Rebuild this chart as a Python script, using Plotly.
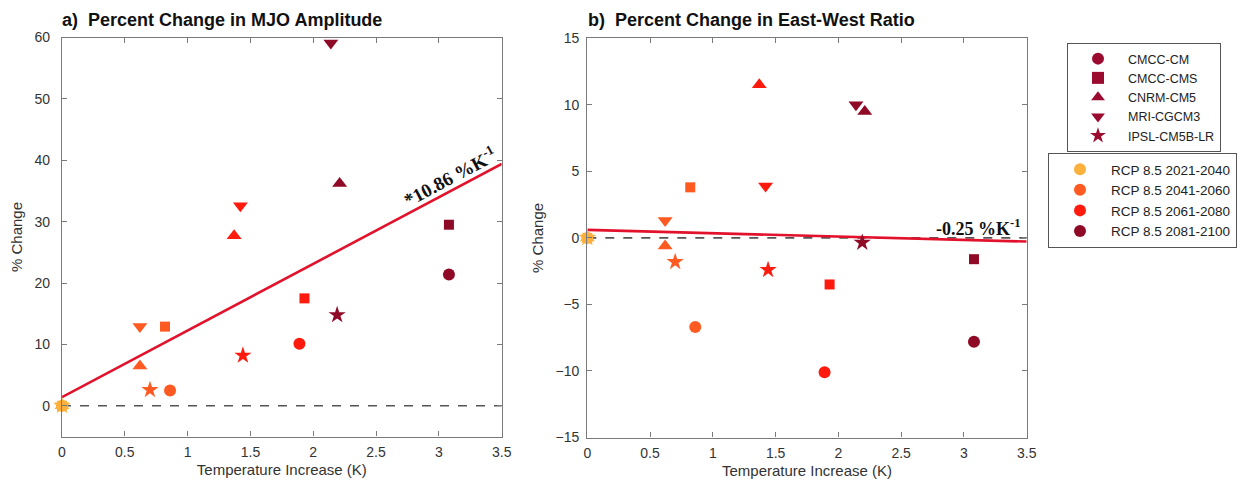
import plotly.graph_objects as go

# ---------------- data ----------------
models = ["CMCC-CM", "CMCC-CMS", "CNRM-CM5", "MRI-CGCM3", "IPSL-CM5B-LR"]
symbols = ["circle", "square", "triangle-up", "triangle-down", "star"]
periods = ["RCP 8.5 2021-2040", "RCP 8.5 2041-2060", "RCP 8.5 2061-2080", "RCP 8.5 2081-2100"]
period_colors = ["#FDB03C", "#FF5A22", "#FF1A0E", "#8E0A26"]
model_color = "#9B0B2F"

# temperature increase (K) per period, ordered as models
temp_2021 = [0.0, 0.0, 0.0, 0.0, 0.0]
temp_2041 = [0.86, 0.82, 0.62, 0.62, 0.70]
temp_2061 = [1.89, 1.93, 1.37, 1.42, 1.44]
temp_2081 = [3.08, 3.08, 2.21, 2.14, 2.19]

# a) percent change in MJO amplitude
amp_2021 = [0.0, 0.0, 0.0, 0.0, 0.0]
amp_2041 = [2.5, 12.9, 6.5, 12.9, 2.6]
amp_2061 = [10.1, 17.5, 27.7, 32.6, 8.2]
amp_2081 = [21.4, 29.5, 36.2, 59.1, 14.8]

# b) percent change in east-west ratio
ew_2021 = [0.0, 0.0, 0.0, 0.0, 0.0]
ew_2041 = [-6.7, 3.8, -0.6, 1.3, -1.8]
ew_2061 = [-10.1, -3.5, 11.5, 3.9, -2.4]
ew_2081 = [-7.8, -1.6, 9.5, 10.0, -0.35]

# linear fits: intercept, slope (%/K)
fit_amp = [1.4, 10.86]
fit_ew = [0.6, -0.25]

x_ticks = [0, 0.5, 1, 1.5, 2, 2.5, 3, 3.5]
x_tick_text = ["0", "0.5", "1", "1.5", "2", "2.5", "3", "3.5"]
amp_ticks = [0, 10, 20, 30, 40, 50, 60]
ew_ticks = [-15, -10, -5, 0, 5, 10, 15]

temps = [temp_2021, temp_2041, temp_2061, temp_2081]
amps = [amp_2021, amp_2041, amp_2061, amp_2081]
ews = [ew_2021, ew_2041, ew_2061, ew_2081]

sym_size = {"circle": 12, "square": 10, "triangle-up": 13, "triangle-down": 13, "star": 13}
sizes = [sym_size[s] for s in symbols]

fig = go.Figure()

FIT_COLOR = "#E3122C"
x_line = [0, 3.5]

for panel, (xa, ya, vals, fit) in enumerate([("x", "y", amps, fit_amp), ("x2", "y2", ews, fit_ew)]):
    # zero dashed line
    fig.add_trace(go.Scatter(x=x_line, y=[0, 0], mode="lines", xaxis=xa, yaxis=ya,
                             line=dict(color="#555555", width=1.6, dash="dash"),
                             showlegend=False, hoverinfo="skip"))
    # regression line
    fig.add_trace(go.Scatter(x=x_line, y=[fit[0] + fit[1] * xv for xv in x_line], mode="lines",
                             xaxis=xa, yaxis=ya, line=dict(color=FIT_COLOR, width=2.6),
                             showlegend=False, hoverinfo="skip"))
    for pi in range(len(periods)):
        fig.add_trace(go.Scatter(
            x=temps[pi], y=vals[pi], mode="markers", xaxis=xa, yaxis=ya,
            marker=dict(symbol=symbols, size=sizes, color=period_colors[pi], opacity=1,
                        line=dict(width=0)),
            text=models, name=periods[pi], showlegend=False, cliponaxis=False))

# legend entries
for m, s in zip(models, symbols):
    fig.add_trace(go.Scatter(x=[None], y=[None], mode="markers", name=m, legend="legend",
                             marker=dict(symbol=s, size=12, color=model_color)))
for p, c in zip(periods, period_colors):
    fig.add_trace(go.Scatter(x=[None], y=[None], mode="markers", name=p, legend="legend2",
                             marker=dict(symbol="circle", size=12, color=c)))

W, H = 1241, 484
ax_common = dict(showline=True, linecolor="#7a7a7a", linewidth=1.3, mirror="ticks",
                 ticks="inside", ticklen=5, tickcolor="#7a7a7a", showgrid=False, zeroline=False,
                 tickfont=dict(family="Liberation Sans, Arial", size=14, color="#333333"),
                 automargin=False)

xfont = dict(family="Liberation Sans, Arial", size=15, color="#333333")

fig.update_layout(
    width=W, height=H, margin=dict(l=0, r=0, t=0, b=0),
    paper_bgcolor="white", plot_bgcolor="white",
    xaxis=dict(domain=[62 / W, 501.7 / W], range=[0, 3.5], tickvals=x_ticks, ticktext=x_tick_text,
               anchor="y", ticklabelstandoff=3,
               title=dict(text="Temperature Increase (K)", font=xfont, standoff=5), **ax_common),
    yaxis=dict(domain=[1 - 436.5 / H, 1 - 37.5 / H], range=[-5, 60], tickvals=amp_ticks,
               anchor="x", ticklabelstandoff=8,
               title=dict(text="% Change", font=xfont, standoff=8), **ax_common),
    xaxis2=dict(domain=[587.3 / W, 1026.7 / W], range=[0, 3.5], tickvals=x_ticks, ticktext=x_tick_text,
                anchor="y2", ticklabelstandoff=3,
                title=dict(text="Temperature Increase (K)", font=xfont, standoff=5), **ax_common),
    yaxis2=dict(domain=[1 - 437.5 / H, 1 - 38.3 / H], range=[-15, 15], tickvals=ew_ticks,
                anchor="x2", ticklabelstandoff=4,
                title=dict(text="% Change", font=xfont, standoff=8), **ax_common),
    legend=dict(x=1067 / W, y=1 - 43 / H, xanchor="left", yanchor="top",
                bordercolor="#555555", borderwidth=1, bgcolor="white",
                font=dict(family="Liberation Sans, Arial", size=12.5, color="#222222"),
                itemsizing="constant", tracegroupgap=0, itemwidth=50, entrywidth=112),
    legend2=dict(x=1048 / W, y=1 - 153 / H, xanchor="left", yanchor="top",
                 bordercolor="#555555", borderwidth=1, bgcolor="white",
                 font=dict(family="Liberation Sans, Arial", size=13.5, color="#222222"),
                 itemsizing="constant", tracegroupgap=0, itemwidth=52, entrywidth=140),
    showlegend=True,
)

title_font = dict(family="Liberation Sans, Arial", size=18, color="#111111")
fig.add_annotation(text="<b>a)  Percent Change in MJO Amplitude</b>", xref="paper", yref="paper",
                   x=60 / W, y=1 - 20 / H, xanchor="left", yanchor="middle", showarrow=False, font=title_font)
fig.add_annotation(text="<b>b)  Percent Change in East-West Ratio</b>", xref="paper", yref="paper",
                   x=586 / W, y=1 - 20 / H, xanchor="left", yanchor="middle", showarrow=False, font=title_font)

ann_font = dict(family="Liberation Serif, Times New Roman", size=19, color="#111111")
fig.add_annotation(text="<b>*%.2f %%K<sup>-1</sup></b>" % fit_amp[1], xref="x", yref="y",
                   x=3.09, y=fit_amp[0] + fit_amp[1] * 3.09 + 2.4, showarrow=False, textangle=-28,
                   font=ann_font)
fig.add_annotation(text="<b>%.2f %%K<sup>-1</sup></b>" % fit_ew[1], xref="x2", yref="y2",
                   x=3.12, y=0.8, showarrow=False, font=dict(ann_font, size=18))

fig.write_html("out.html")
